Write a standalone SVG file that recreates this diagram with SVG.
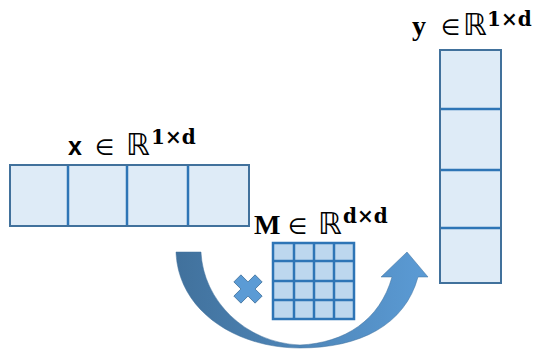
<svg xmlns="http://www.w3.org/2000/svg" width="535" height="352" viewBox="0 0 535 352">
<style>
.cell{fill:#deebf7;stroke:#41719c;stroke-width:2}
.div{stroke:#2e75b6;stroke-width:2.5}
.mcell{fill:#bdd7ee;stroke:#2e75b6;stroke-width:2.5}
.lbl{fill:#000;font-family:"Liberation Serif","DejaVu Serif",serif}
.sym{font-family:"DejaVu Sans","Liberation Sans",sans-serif;font-size:22px}
.bb{font-family:"DejaVu Sans",sans-serif;font-size:30px}
.sup{font-family:"DejaVu Serif",serif;font-weight:bold;font-size:20px}
</style>
<defs>
<linearGradient id="ag" x1="0" y1="0" x2="1" y2="0">
<stop offset="0" stop-color="#41719c"/>
<stop offset="1" stop-color="#5b9bd5"/>
</linearGradient>
</defs>
<g id="connectors">
<path d="M176 252 L201 252 C203 300 245 343 300 345 C345 343 380 320 392 277 L381 277 L407 252 L428 277 L418 277 C405 325 360 348 300 348 C235 348 178 310 176 252 Z" fill="url(#ag)" stroke="#41719c" stroke-width="0.5"/>
<polygon points="-5,-15 5,-15 5,-5 15,-5 15,5 5,5 5,15 -5,15 -5,5 -15,5 -15,-5 -5,-5" transform="translate(248 289) rotate(45)" fill="#5b9bd5" stroke="#41719c" stroke-width="0.8"/>
</g>
<g id="x">
<rect class="cell" x="10" y="165" width="239" height="61"/>
<line class="div" x1="68" y1="166" x2="68" y2="225"/>
<line class="div" x1="127" y1="166" x2="127" y2="225"/>
<line class="div" x1="188" y1="166" x2="188" y2="225"/>
<text class="lbl"><tspan x="68" y="155" font-family="Liberation Sans,Arial,sans-serif" font-weight="bold" font-size="25">x</tspan><tspan class="sym" x="95">∈</tspan><tspan class="bb" x="126">ℝ</tspan><tspan class="sup" x="151" y="144">1×d</tspan></text>
</g>
<g id="y">
<rect class="cell" x="440" y="50" width="61" height="233"/>
<line class="div" x1="441" y1="109" x2="500" y2="109"/>
<line class="div" x1="441" y1="170" x2="500" y2="170"/>
<line class="div" x1="441" y1="228" x2="500" y2="228"/>
<text class="lbl"><tspan x="412" y="35" font-weight="bold" font-size="28">y</tspan><tspan class="sym" x="441">∈</tspan><tspan class="bb" x="463">ℝ</tspan><tspan class="sup" x="487" y="26">1×d</tspan></text>
</g>
<g id="M">
<rect class="mcell" x="273" y="243" width="81" height="76"/>
<line class="div" x1="294" y1="243" x2="294" y2="319"/>
<line class="div" x1="314" y1="243" x2="314" y2="319"/>
<line class="div" x1="334" y1="243" x2="334" y2="319"/>
<line class="div" x1="273" y1="261" x2="354" y2="261"/>
<line class="div" x1="273" y1="281" x2="354" y2="281"/>
<line class="div" x1="273" y1="300" x2="354" y2="300"/>
<text class="lbl"><tspan x="254" y="234" font-weight="bold" font-size="28">M</tspan><tspan class="sym" x="288">∈</tspan><tspan class="bb" x="318">ℝ</tspan><tspan class="sup" x="343" y="223">d×d</tspan></text>
</g>
</svg>
